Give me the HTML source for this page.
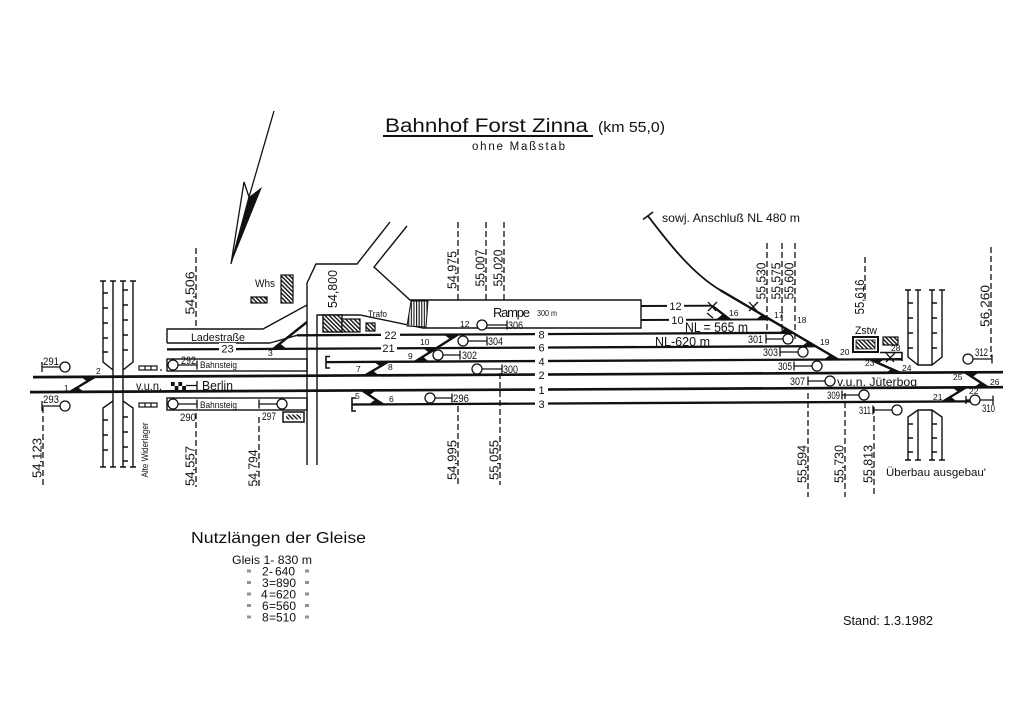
<!DOCTYPE html>
<html><head><meta charset="utf-8"><style>
html,body{margin:0;padding:0;background:#fff;}
svg{display:block;}
text{font-family:"Liberation Sans",sans-serif;fill:#111;}
</style></head><body>
<svg width="1024" height="724" viewBox="0 0 1024 724" xmlns="http://www.w3.org/2000/svg">
<defs>
<pattern id="h" width="3" height="3" patternUnits="userSpaceOnUse" patternTransform="rotate(-45)"><rect width="3" height="3" fill="#fff"/><rect width="1.4" height="3" fill="#111"/></pattern>
<pattern id="v" width="2.6" height="3" patternUnits="userSpaceOnUse"><rect width="2.6" height="3" fill="#fff"/><rect width="1.1" height="3" fill="#111"/></pattern>
</defs>
<rect width="1024" height="724" fill="#fff"/>

<!-- Title -->
<text x="385" y="132" font-size="19" textLength="203" lengthAdjust="spacingAndGlyphs">Bahnhof Forst Zinna</text>
<line x1="383" y1="136" x2="593" y2="136" stroke="#111" stroke-width="2"/>
<text x="598" y="132" font-size="15" textLength="67" lengthAdjust="spacingAndGlyphs">(km 55,0)</text>
<text x="472" y="150" font-size="11.5" textLength="93" lengthAdjust="spacing">ohne Maßstab</text>

<!-- North arrow -->
<g stroke="#111" stroke-width="1.3" fill="none">
<line x1="274" y1="111" x2="249" y2="197"/>
<polygon points="231,264 244,182 249,197" fill="#fff"/>
</g>
<polygon points="231,264 249,197 262,187" fill="#111"/>

<!-- Buildings -->
<text x="255" y="287" font-size="11" textLength="20" lengthAdjust="spacingAndGlyphs">Whs</text>
<rect x="281" y="275" width="12" height="28" fill="url(#h)" stroke="#111" stroke-width="1.2"/>
<rect x="251" y="297" width="16" height="6" fill="url(#h)" stroke="#111" stroke-width="1.2"/>

<!-- Roads / Ladestraße / Rampe -->
<g stroke="#111" stroke-width="1.4" fill="none">
<polyline points="167,343 167,329 263,329 307,305 307,283 316,264 357,264 390,222"/>
<polyline points="407,226 374,267 410,300 641,300 641,328 423,328 360,315 317,315 317,465"/>
<line x1="307" y1="305" x2="307" y2="465"/>
<line x1="167" y1="343" x2="270" y2="343"/>
<line x1="270" y1="343" x2="297" y2="335.3"/>
<rect x="167" y="359" width="140" height="12"/>
<rect x="167" y="398" width="140" height="12"/>
</g>
<polygon points="411,301 428,301 426,327 407,326" fill="url(#v)" stroke="#111" stroke-width="1"/>
<rect x="323" y="315" width="19" height="17" fill="url(#h)" stroke="#111" stroke-width="1.4"/>
<rect x="342" y="319" width="18" height="13" fill="url(#h)" stroke="#111" stroke-width="1.2"/>
<rect x="366" y="323" width="9" height="8" fill="url(#h)" stroke="#111" stroke-width="1.2"/>
<text x="368" y="317" font-size="9" textLength="19" lengthAdjust="spacingAndGlyphs">Trafo</text>
<text x="191" y="341" font-size="11" textLength="54" lengthAdjust="spacingAndGlyphs">Ladestraße</text>
<text x="493" y="317" font-size="13" textLength="37" lengthAdjust="spacing">Rampe</text>
<text x="537" y="316" font-size="8" textLength="20" lengthAdjust="spacingAndGlyphs">300 m</text>

<!-- Bridges -->
<g stroke="#111" stroke-width="1.4" fill="none">
<path d="M103,281 V362 L113,370 M133,281 V362 L123,370 M113,281 V467 M123,281 V467"/>
<path d="M113,401 L103,408 V467 M123,401 L133,408 V467"/>
<path d="M100,281 H106 M110,281 H116 M120,281 H126 M130,281 H136 M100,467 H106 M110,467 H116 M120,467 H126 M130,467 H136"/>
<path d="M103,293 H108 M103,308 H108 M103,323 H108 M103,338 H108 M103,352 H108 M123,290 H128 M123,305 H128 M123,320 H128 M123,335 H128 M123,350 H128"/>
<path d="M103,420 H108 M103,435 H108 M103,450 H108 M123,417 H128 M123,432 H128 M123,447 H128 M123,461 H128"/>
<path d="M908,290 V357 L918,365 H932 L942,357 V290 M918,290 V365 M932,290 V365"/>
<path d="M908,460 V417 L918,410 H932 L942,417 V460 M918,410 V460 M932,410 V460"/>
<path d="M905,290 H911 M915,290 H921 M929,290 H935 M939,290 H945 M905,460 H911 M915,460 H921 M929,460 H935 M939,460 H945"/>
<path d="M908,303 H913 M908,318 H913 M908,333 H913 M908,348 H913 M932,303 H937 M932,318 H937 M932,333 H937 M932,348 H937"/>
<path d="M908,424 H913 M908,438 H913 M908,452 H913 M932,424 H937 M932,438 H937 M932,452 H937"/>
</g>
<text transform="translate(148,450) rotate(-90)" text-anchor="middle" font-size="9" textLength="55" lengthAdjust="spacingAndGlyphs">Alte Widerlager</text>

<!-- Tracks -->
<g stroke="#111" fill="none">
<g stroke-width="2.7">
<line x1="33" y1="377.1" x2="1003" y2="372.2"/>
<line x1="30" y1="392.1" x2="1003" y2="387.2"/>
</g>
<g stroke-width="2.3">
<line x1="352" y1="404.5" x2="970" y2="401.4"/>
<line x1="326" y1="362.1" x2="902" y2="359.2"/>
<line x1="167" y1="349.4" x2="815.7" y2="346.2"/>
<line x1="297" y1="335.3" x2="793" y2="332.8"/>
</g>
<g stroke-width="1.9">
<line x1="641" y1="306" x2="712" y2="305.7"/>
<line x1="641" y1="320" x2="770" y2="319.4"/>
</g>
<g stroke-width="1.6">
<path d="M330,356.5 H326 V368 H330"/>
<path d="M356,398 H352 V411 H356"/>
<path d="M880,352.5 H902 V361"/>
</g>
<g stroke-width="2.4">
<line x1="70" y1="391.9" x2="95" y2="376.8"/>
<line x1="362" y1="390.4" x2="383" y2="404.3"/>
<line x1="365" y1="375.4" x2="388" y2="361.8"/>
<line x1="415" y1="361.7" x2="458" y2="334.5"/>
<line x1="712" y1="305.7" x2="730" y2="319.6"/>
<line x1="720" y1="290" x2="838" y2="359.4"/>
<line x1="870" y1="359.4" x2="900" y2="372.75"/>
<line x1="965" y1="372.4" x2="988" y2="387.3"/>
<line x1="943" y1="401.5" x2="966" y2="387.4"/>
<line x1="273" y1="349.1" x2="307" y2="322"/>
</g>
<path d="M648,216 C665,238 690,272 720,290" stroke-width="1.8"/>
<line x1="643" y1="219.5" x2="653" y2="212" stroke-width="1.6"/>
<g stroke-width="1.3">
<path d="M708,302 L716,311 M708,311 L717,302"/>
<path d="M749,302 L757,311 M749,311 L758,302"/>
<path d="M886,353 L894,362 M886,362 L895,353"/>
<path d="M707,313 L713,318"/>
</g>
</g>
<g fill="#111">
<polygon points="70,391.9 84,391.9 78,387.5"/>
<polygon points="95,376.8 81,376.8 87,381.5"/>
<polygon points="362,390.4 376,390.4 370,394.8"/>
<polygon points="383,404.3 369,404.3 375,399.8"/>
<polygon points="365,375.4 379,375.4 373,370.8"/>
<polygon points="388,361.8 374,361.8 380,366.4"/>
<polygon points="415,361.7 429,361.7 423,356.8"/>
<polygon points="437,348 423,348 429,352.6"/>
<polygon points="458,334.5 444,334.5 450,339.2"/>
<polygon points="730,319.6 716,319.6 722,314.8"/>
<polygon points="770,319.4 756,319.4 762,314.8"/>
<polygon points="793,332.8 779,332.8 785,328.3"/>
<polygon points="815.7,346.2 801.7,346.2 807.7,341.7"/>
<polygon points="838,359.4 824,359.4 830,355"/>
<polygon points="870,359.4 884,359.4 878,363.6"/>
<polygon points="900,372.75 886,372.75 892,368.6"/>
<polygon points="965,372.4 979,372.4 973,376.6"/>
<polygon points="988,387.3 974,387.3 980,383"/>
<polygon points="943,401.5 957,401.5 951,397"/>
<polygon points="966,387.4 952,387.4 958,391.8"/>
<polygon points="273,349.1 287,349.1 281,344.2"/>
</g>

<g fill="#fff">
<rect x="535" y="329" width="13" height="10"/>
<rect x="535" y="342" width="13" height="10"/>
<rect x="535" y="356" width="13" height="10"/>
<rect x="535" y="369" width="13" height="11"/>
<rect x="535" y="384" width="13" height="11"/>
<rect x="535" y="398" width="13" height="10"/>
<rect x="381" y="330" width="19" height="10"/>
<rect x="381" y="343" width="16" height="10"/>
<rect x="219" y="343" width="17" height="10"/>
<rect x="667" y="301" width="17" height="10"/>
<rect x="669" y="315" width="17" height="10"/>
</g>
<g font-size="11" text-anchor="middle">
<text x="541.5" y="338.5">8</text>
<text x="541.5" y="351.5">6</text>
<text x="541.5" y="365.5">4</text>
<text x="541.5" y="379">2</text>
<text x="541.5" y="394">1</text>
<text x="541.5" y="408">3</text>
<text x="390.5" y="339">22</text>
<text x="388.5" y="352">21</text>
<text x="227.5" y="352.5">23</text>
<text x="675.5" y="310">12</text>
<text x="677.5" y="324">10</text>
</g>
<g font-size="8.5" fill="#444">
<text x="64" y="391">1</text>
<text x="96" y="374">2</text>
<text x="355" y="399">5</text>
<text x="389" y="402">6</text>
<text x="356" y="372">7</text>
<text x="388" y="370">8</text>
<text x="408" y="359">9</text>
<text x="420" y="345">10</text>
<text x="460" y="327">12</text>
<text x="268" y="356">3</text>
<text x="729" y="316">16</text>
<text x="774" y="318">17</text>
<text x="797" y="323">18</text>
<text x="820" y="345">19</text>
<text x="840" y="355">20</text>
<text x="865" y="366">23</text>
<text x="902" y="371">24</text>
<text x="891" y="351">28</text>
<text x="953" y="380">25</text>
<text x="990" y="385">26</text>
<text x="933" y="400">21</text>
<text x="969" y="394">22</text>
</g>

<g stroke="#111" stroke-width="1.3" fill="#fff">
<path d="M42,367 H60 M42,362 V372" fill="none"/><circle cx="65" cy="367" r="5"/>
<path d="M42,406 H60 M42,401 V411" fill="none"/><circle cx="65" cy="406" r="5"/>
<path d="M178,365 H197 M197,360.5 V369.5" fill="none"/><circle cx="173" cy="365" r="5"/>
<path d="M178,404 H197 M197,399.5 V408.5" fill="none"/><circle cx="173" cy="404" r="5"/>
<path d="M259,404 H277 M259,399.5 V408.5" fill="none"/><circle cx="282" cy="404" r="5"/>
<path d="M185,385.5 H197 M197,381 V390" fill="none"/>
<path d="M487,325 H507 M507,320.5 V329.5" fill="none"/><circle cx="482" cy="325" r="5"/>
<path d="M468,341 H487 M487,336.5 V345.5" fill="none"/><circle cx="463" cy="341" r="5"/>
<path d="M443,355 H460 M460,350.5 V359.5" fill="none"/><circle cx="438" cy="355" r="5"/>
<path d="M482,369 H502 M502,364.5 V373.5" fill="none"/><circle cx="477" cy="369" r="5"/>
<path d="M435,398 H452 M452,393.5 V402.5" fill="none"/><circle cx="430" cy="398" r="5"/>
<path d="M766,339 H783 M766,334.5 V343.5" fill="none"/><circle cx="788" cy="339" r="5"/>
<path d="M780,352 H798 M780,347.5 V356.5" fill="none"/><circle cx="803" cy="352" r="5"/>
<path d="M794,366 H812 M794,361.5 V370.5" fill="none"/><circle cx="817" cy="366" r="5"/>
<path d="M808,381 H825 M808,376.5 V385.5" fill="none"/><circle cx="830" cy="381" r="5"/>
<path d="M842,395 H859 M842,390.5 V399.5" fill="none"/><circle cx="864" cy="395" r="5"/>
<path d="M873,410 H892 M873,405.5 V414.5" fill="none"/><circle cx="897" cy="410" r="5"/>
<path d="M973,359 H992 M992,354.5 V363.5" fill="none"/><circle cx="968" cy="359" r="5"/>
<path d="M966,400 H970 M966,396 V404 M980,400 H993 M993,395.5 V404.5" fill="none"/><circle cx="975" cy="400" r="5"/>
</g>
<g font-size="11">
<text x="43" y="365" textLength="16" lengthAdjust="spacingAndGlyphs">291</text>
<text x="43" y="403" textLength="16" lengthAdjust="spacingAndGlyphs">293</text>
<text x="181" y="364" textLength="15" lengthAdjust="spacingAndGlyphs">292</text>
<text x="180" y="421" textLength="16" lengthAdjust="spacingAndGlyphs">290</text>
<text x="262" y="420" textLength="14" lengthAdjust="spacingAndGlyphs">297</text>
<text x="508" y="329" textLength="15" lengthAdjust="spacingAndGlyphs">306</text>
<text x="488" y="345" textLength="15" lengthAdjust="spacingAndGlyphs">304</text>
<text x="462" y="359" textLength="15" lengthAdjust="spacingAndGlyphs">302</text>
<text x="503" y="373" textLength="15" lengthAdjust="spacingAndGlyphs">300</text>
<text x="453" y="402" textLength="16" lengthAdjust="spacingAndGlyphs">296</text>
<text x="763" y="343" text-anchor="end" textLength="15" lengthAdjust="spacingAndGlyphs">301</text>
<text x="778" y="356" text-anchor="end" textLength="15" lengthAdjust="spacingAndGlyphs">303</text>
<text x="792" y="370" text-anchor="end" textLength="14" lengthAdjust="spacingAndGlyphs">305</text>
<text x="805" y="385" text-anchor="end" textLength="15" lengthAdjust="spacingAndGlyphs">307</text>
<text x="840" y="399" text-anchor="end" textLength="13" lengthAdjust="spacingAndGlyphs">309</text>
<text x="871" y="414" text-anchor="end" textLength="12" lengthAdjust="spacingAndGlyphs">311</text>
<text x="975" y="356" textLength="13" lengthAdjust="spacingAndGlyphs">312</text>
<text x="982" y="412" textLength="13" lengthAdjust="spacingAndGlyphs">310</text>
</g>
<g font-size="9.5">
<text x="200" y="368" textLength="37" lengthAdjust="spacingAndGlyphs">Bahnsteig</text>
<text x="200" y="408" textLength="37" lengthAdjust="spacingAndGlyphs">Bahnsteig</text>
</g>
<rect x="171" y="382" width="15" height="8" fill="#111"/>
<g fill="#fff"><rect x="174.7" y="382" width="3.7" height="4"/><rect x="182.2" y="382" width="3.8" height="4"/><rect x="171" y="386" width="3.7" height="4"/><rect x="178.4" y="386" width="3.8" height="4"/></g>
<text x="136" y="390" font-size="12" textLength="26" lengthAdjust="spacingAndGlyphs">v.u.n.</text>
<text x="202" y="390" font-size="13" textLength="31" lengthAdjust="spacingAndGlyphs">Berlin</text>
<g stroke="#111" stroke-width="1.2" fill="none">
<rect x="139" y="366" width="18" height="4"/><path d="M145,366 V370 M151,366 V370"/>
<rect x="139" y="403" width="18" height="4"/><path d="M145,403 V407 M151,403 V407"/>
</g>
<circle cx="161" cy="370" r="0.9" fill="#111"/>
<rect x="283" y="412" width="21" height="10" fill="#fff" stroke="#111" stroke-width="1.5"/>
<rect x="286" y="414.5" width="15" height="5" fill="url(#h)"/>

<text x="662" y="222" font-size="12" textLength="138" lengthAdjust="spacingAndGlyphs">sowj. Anschluß NL 480 m</text>
<text x="685" y="332" font-size="14" textLength="63" lengthAdjust="spacingAndGlyphs">NL = 565 m</text>
<text x="655" y="346" font-size="13" textLength="55" lengthAdjust="spacingAndGlyphs">NL-620 m</text>
<text x="837" y="386" font-size="12" textLength="80" lengthAdjust="spacingAndGlyphs">v.u.n.  Jüterbog</text>
<text x="855" y="334" font-size="11" textLength="22" lengthAdjust="spacingAndGlyphs">Zstw</text>
<rect x="853" y="337" width="25" height="15" fill="#fff" stroke="#111" stroke-width="2"/>
<rect x="856" y="340" width="19" height="9" fill="url(#h)" stroke="#111" stroke-width="0.8"/>
<rect x="883" y="337" width="15" height="8" fill="url(#h)" stroke="#111" stroke-width="1.2"/>
<text x="886" y="476" font-size="11" textLength="100" lengthAdjust="spacingAndGlyphs">Überbau ausgebau'</text>

<g stroke="#111" stroke-width="1.3" stroke-dasharray="6 3" fill="none">
<line x1="43" y1="407" x2="43" y2="486"/>
<line x1="196" y1="248" x2="196" y2="328"/>
<line x1="196" y1="413" x2="196" y2="487"/>
<line x1="259" y1="417" x2="259" y2="487"/>
<line x1="458" y1="222" x2="458" y2="300"/>
<line x1="486" y1="222" x2="486" y2="300"/>
<line x1="504" y1="222" x2="504" y2="300"/>
<line x1="458" y1="406" x2="458" y2="485"/>
<line x1="500" y1="373" x2="500" y2="485"/>
<line x1="767" y1="243" x2="767" y2="332"/>
<line x1="782" y1="243" x2="782" y2="332"/>
<line x1="795" y1="243" x2="795" y2="340"/>
<line x1="865" y1="257" x2="865" y2="300"/>
<line x1="991" y1="247" x2="991" y2="357"/>
<line x1="808" y1="393" x2="808" y2="497"/>
<line x1="845" y1="393" x2="845" y2="497"/>
<line x1="874" y1="407" x2="874" y2="497"/>
</g>
<g font-size="13" text-anchor="middle">
<text transform="translate(41.5,458) rotate(-90)" textLength="40" lengthAdjust="spacingAndGlyphs">54,123</text>
<text transform="translate(194.5,293) rotate(-90)" textLength="43" lengthAdjust="spacingAndGlyphs">54,506</text>
<text transform="translate(194.5,466) rotate(-90)" textLength="40" lengthAdjust="spacingAndGlyphs">54,557</text>
<text transform="translate(257.5,468) rotate(-90)" textLength="37" lengthAdjust="spacingAndGlyphs">54,794</text>
<text transform="translate(337,289) rotate(-90)" textLength="38" lengthAdjust="spacingAndGlyphs">54,800</text>
<text transform="translate(456.5,270) rotate(-90)" textLength="38" lengthAdjust="spacingAndGlyphs">54,975</text>
<text transform="translate(484.5,268) rotate(-90)" textLength="37" lengthAdjust="spacingAndGlyphs">55,007</text>
<text transform="translate(502.5,268) rotate(-90)" textLength="37" lengthAdjust="spacingAndGlyphs">55,020</text>
<text transform="translate(456.5,460) rotate(-90)" textLength="40" lengthAdjust="spacingAndGlyphs">54,995</text>
<text transform="translate(498.5,460) rotate(-90)" textLength="40" lengthAdjust="spacingAndGlyphs">55,055</text>
<text transform="translate(765.5,281) rotate(-90)" textLength="37" lengthAdjust="spacingAndGlyphs">55,530</text>
<text transform="translate(780.5,281) rotate(-90)" textLength="37" lengthAdjust="spacingAndGlyphs">55,575</text>
<text transform="translate(793.5,281) rotate(-90)" textLength="37" lengthAdjust="spacingAndGlyphs">55,600</text>
<text transform="translate(864,297) rotate(-90)" textLength="35" lengthAdjust="spacingAndGlyphs">55,616</text>
<text transform="translate(989.5,306) rotate(-90)" textLength="42" lengthAdjust="spacingAndGlyphs">56,260</text>
<text transform="translate(806.5,464) rotate(-90)" textLength="38" lengthAdjust="spacingAndGlyphs">55,594</text>
<text transform="translate(843.5,464) rotate(-90)" textLength="38" lengthAdjust="spacingAndGlyphs">55,730</text>
<text transform="translate(872.5,464) rotate(-90)" textLength="38" lengthAdjust="spacingAndGlyphs">55,813</text>
</g>

<text x="191" y="543" font-size="16" textLength="175" lengthAdjust="spacingAndGlyphs">Nutzlängen der Gleise</text>
<g font-size="12">
<text x="232" y="564" textLength="80" lengthAdjust="spacingAndGlyphs">Gleis 1- 830 m</text>
<text x="262" y="575.5">2</text><text x="269" y="575.5">-</text><text x="275" y="575.5">640</text>
<text x="262" y="587">3</text><text x="269" y="587">=</text><text x="276" y="587">890</text>
<text x="261" y="598.5">4</text><text x="269" y="598.5">=</text><text x="276" y="598.5">620</text>
<text x="262" y="610">6</text><text x="269" y="610">=</text><text x="276" y="610">560</text>
<text x="262" y="621.5">8</text><text x="269" y="621.5">=</text><text x="276" y="621.5">510</text>
</g>
<g stroke="#111" stroke-width="0.9">
<path d="M248,569.5 v3 M250,569.5 v3 M306,569.5 v3 M308,569.5 v3"/>
<path d="M248,581 v3 M250,581 v3 M306,581 v3 M308,581 v3"/>
<path d="M248,592.5 v3 M250,592.5 v3 M306,592.5 v3 M308,592.5 v3"/>
<path d="M248,604 v3 M250,604 v3 M306,604 v3 M308,604 v3"/>
<path d="M248,615.5 v3 M250,615.5 v3 M306,615.5 v3 M308,615.5 v3"/>
</g>

<text x="843" y="625" font-size="13" textLength="90" lengthAdjust="spacingAndGlyphs">Stand: 1.3.1982</text>
</svg>
</body></html>
